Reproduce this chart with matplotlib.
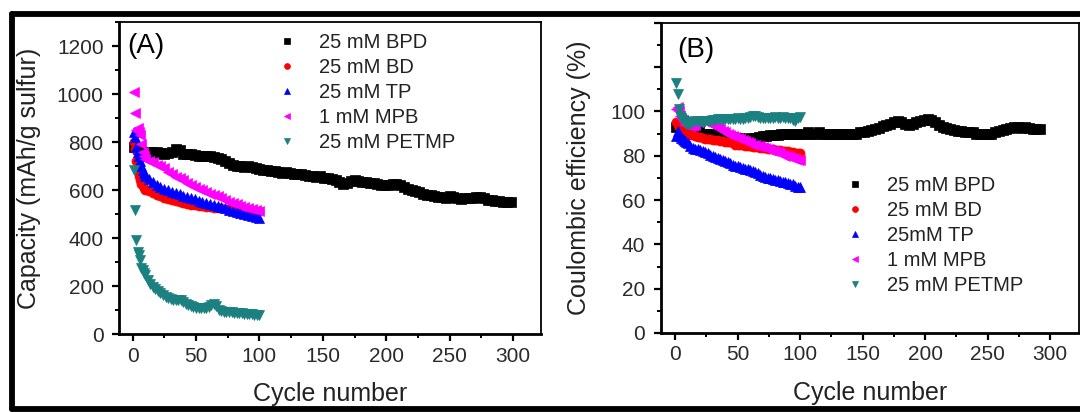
import matplotlib
matplotlib.use("Agg")
import matplotlib.pyplot as plt
from matplotlib.lines import Line2D
from matplotlib.ticker import MultipleLocator, FuncFormatter

plt.rcParams["font.family"] = ["Liberation Sans", "DejaVu Sans"]

labels_a = ["25 mM BPD", "25 mM BD", "25 mM TP", "1 mM MPB", "25 mM PETMP"]
labels_b = ["25 mM BPD", "25 mM BD", "25mM TP", "1 mM MPB", "25 mM PETMP"]
colors = ["black", "#ff0000", "#0000ff", "#ff00ff", "#1b8080"]
markers = ["s", "o", "^", "<", "v"]
sizes = [6.5, 6.5, 7, 7, 7]

# panel A: capacity (mAh/g sulfur)
cyc_bpd_a = list(range(1, 299, 3))
cap_bpd = [780, 770, 762, 760, 758, 757, 760, 755, 752, 755,
           758, 770, 768, 752, 750, 748, 745, 742, 740, 742,
           740, 738, 735, 728, 720, 712, 705, 700, 698, 696,
           700, 695, 690, 688, 685, 682, 680, 678, 675, 672,
           673, 670, 668, 665, 666, 662, 660, 658, 655, 657,
           652, 650, 646, 640, 632, 625, 628, 638, 642, 636,
           634, 632, 630, 628, 625, 622, 620, 620, 624, 626,
           620, 612, 605, 600, 595, 590, 585, 580, 578, 575,
           572, 570, 568, 575, 570, 565, 562, 565, 568, 565,
           572, 570, 565, 560, 558, 555, 553, 552, 550, 548]

cyc_short = list(range(1, 11)) + list(range(13, 101, 3))
cap_bd = [800, 770, 720, 680, 660, 640, 625, 615, 608, 602,
          595, 588, 580, 575, 568, 563, 558, 553, 548, 544,
          540, 538, 536, 534, 532, 530, 528, 527, 525, 524,
          522, 521, 520, 518, 517, 516, 515, 514, 513, 512]
cap_tp = [840, 820, 780, 760, 740, 720, 700, 685, 670, 660,
          645, 632, 622, 614, 606, 599, 593, 588, 582, 577,
          572, 566, 561, 556, 551, 546, 541, 537, 533, 528,
          523, 518, 514, 510, 505, 500, 496, 492, 488, 484]
cap_mpb = [1010, 920, 850, 860, 840, 830, 790, 760, 740, 730,
           720, 715, 705, 700, 690, 675, 665, 655, 648, 642,
           630, 620, 612, 605, 598, 590, 585, 578, 574, 566,
           558, 552, 545, 540, 535, 530, 525, 520, 517, 514]

cyc_petmp = list(range(1, 11)) + list(range(12, 101, 2))
cap_petmp = [685, 515, 390, 340, 330, 310, 275, 265, 255, 245,
             225, 208, 196, 186, 178, 170, 163, 155, 148, 145,
             143, 142, 142, 140, 132, 126, 120, 116, 113, 110,
             108, 107, 107, 109, 113, 120, 124, 118, 102, 96,
             93, 92, 91, 90, 88, 87, 86, 86, 85, 84,
             83, 82, 81, 81, 80]

# panel B: coulombic efficiency (%)
cyc_bpd_b = list(range(1, 293, 3))
ce_bpd = [93, 92, 91, 91, 90.5, 90, 91, 90, 90, 89.5,
          90, 89.5, 89, 89, 89, 88.5, 88, 88, 87.5, 87.5,
          88, 88, 88.5, 89, 89, 89.5, 89.5, 89.5, 90, 90,
          90, 90, 90, 90, 90, 90.5, 90, 90, 90.5, 90,
          90, 90, 90, 90, 90, 90, 90, 90, 90, 90.5,
          90.5, 91, 91.5, 92, 92.5, 93.5, 94, 94.5, 95, 95.5,
          95, 94.5, 94, 94.5, 95, 95.5, 96, 96.5, 96, 95,
          94, 93, 92.5, 92, 91.5, 91, 91, 90.5, 90.5, 90.5,
          90, 90, 90, 90, 90, 90.5, 91, 91.5, 92, 92.5,
          93, 93, 92.5, 93, 92.5, 92, 92, 92]

cyc_ce = list(range(1, 11)) + list(range(12, 101, 2))
ce_bd = [95, 94, 93, 92, 91.5, 91, 91, 90.5, 90, 90,
         89.5, 89.5, 89, 88.5, 88.5, 88, 87.5, 87.5, 87.5, 87,
         87, 87, 86.5, 86.5, 86, 86, 86, 85.5, 85, 85,
         85, 85, 84.5, 84.5, 84.5, 84, 84, 84, 83.5, 83.5,
         83.5, 83, 83, 83, 82.5, 82.5, 82.5, 82, 82, 82,
         81.5, 81.5, 81, 81, 81]
ce_tp = [89, 91, 90, 89, 88, 87.5, 87, 86.5, 86, 85.5,
         84.5, 83.5, 83, 83, 82.5, 82, 81.5, 81, 80.5, 80,
         79.5, 79, 78.5, 78, 77.5, 77, 76.5, 76, 75.5, 75.5,
         75, 74.5, 74, 74, 73.5, 73, 72.5, 72, 71.5, 71,
         70.5, 70, 70, 69.5, 69, 69, 68.5, 68, 68, 67.5,
         67, 67, 66.5, 66, 66]
ce_mpb = [101, 102, 100, 98, 97, 96, 95, 94.5, 94, 94,
          93.5, 93.5, 94, 95, 95.5, 96, 95.5, 95, 94.5, 94,
          93.5, 93, 92, 91, 90.5, 90, 89.5, 89, 88.5, 88,
          87.5, 87, 86.5, 86, 85.5, 85, 85, 84.5, 84.5, 84,
          83.5, 83, 82.5, 82, 82, 81.5, 81, 80.5, 80, 80,
          79.5, 79, 78.5, 78, 78]
ce_petmp = [113, 108, 101, 98, 97, 96, 95.5, 95, 94.5, 94.5,
            94.5, 95, 95.5, 95.5, 95, 95, 95.5, 95.5, 95.5, 96,
            96, 96.5, 96.5, 96, 96.5, 96.5, 96.5, 96.5, 96.5, 97,
            96.5, 96.5, 97, 97, 97.5, 98, 98, 97.5, 97, 97,
            97, 97, 97, 97, 97.5, 97, 97, 97.5, 97, 97,
            97, 96, 95.5, 97, 97.5]

fig = plt.figure(figsize=(10.8, 4.12), dpi=100)

# outer frame of the screenshot
fw, fh = 1080, 412
frame_kw = dict(color="black", lw=4.2, solid_capstyle="round", transform=fig.transFigure)
fig.add_artist(Line2D([12 / fw, 12 / fw], [1 - 14 / fh, 1 - 409 / fh], **frame_kw))
fig.add_artist(Line2D([12 / fw, 1.01], [1 - 14 / fh, 1 - 14 / fh], **frame_kw))
fig.add_artist(Line2D([12 / fw, 1.01], [1 - 409 / fh, 1 - 409 / fh], **frame_kw))

ax1 = fig.add_axes([119 / fw, 78 / fh, 422 / fw, 312 / fh])
ax2 = fig.add_axes([660.5 / fw, 79 / fh, 418.5 / fw, 310.3 / fh])

series_a = [(cyc_bpd_a, cap_bpd), (cyc_short, cap_bd), (cyc_short, cap_tp),
            (cyc_short, cap_mpb), (cyc_petmp, cap_petmp)]
series_b = [(cyc_bpd_b, ce_bpd), (cyc_ce, ce_bd), (cyc_ce, ce_tp),
            (cyc_ce, ce_mpb), (cyc_ce, ce_petmp)]

for (x, y), c, m, s, lab in zip(series_a, colors, markers, sizes, labels_a):
    ax1.plot(x, y, ls="none", marker=m, ms=s, color=c, mec=c, mew=0.5, label=lab)
for (x, y), c, m, s, lab in zip(series_b, colors, markers, sizes, labels_b):
    ax2.plot(x, y, ls="none", marker=m, ms=s, color=c, mec=c, mew=0.5, label=lab)

ax1.set_xlim(-10.7, 322)
ax1.set_ylim(0, 1300)
ax1.yaxis.set_minor_locator(MultipleLocator(100))
ax1.set_yticks([0, 200, 400, 600, 800, 1000, 1200])

ax2.set_xlim(-11.6, 323)
ax2.set_ylim(0, 140)
ax2.yaxis.set_major_locator(MultipleLocator(20))
ax2.yaxis.set_minor_locator(MultipleLocator(10))
ax2.yaxis.set_major_formatter(FuncFormatter(lambda v, p: "" if v > 100 else f"{v:.0f}"))

for ax in (ax1, ax2):
    ax.set_xticks([0, 50, 100, 150, 200, 250, 300])
    ax.xaxis.set_minor_locator(MultipleLocator(25))
    ax.tick_params(which="major", direction="out", length=5, width=1.6,
                   labelsize=15, labelcolor="#2a2a2a", pad=4)
    ax.tick_params(which="minor", direction="out", length=3, width=1.4)
    ax.tick_params(axis="y", which="major", pad=6)
    for side in ("left", "bottom"):
        ax.spines[side].set_linewidth(2)
    for side in ("top", "right"):
        ax.spines[side].set_linewidth(1.3)
    ax.set_xlabel("Cycle number", fontsize=18, color="#222222")

ax1.set_ylabel("Capacity (mAh/g sulfur)", fontsize=18, color="#222222")
ax2.set_ylabel("Coulombic efficiency (%)", fontsize=18, color="#222222")
ax1.yaxis.set_label_coords(-0.185, 0.5)
ax2.yaxis.set_label_coords(-0.165, 0.5)
ax1.xaxis.set_label_coords(0.5, -0.155)
ax2.xaxis.set_label_coords(0.5, -0.155)

ax1.text(0.02, 0.965, "(A)", transform=ax1.transAxes, fontsize=20, va="top", ha="left")
ax2.text(0.04, 0.955, "(B)", transform=ax2.transAxes, fontsize=20, va="top", ha="left")

leg_kw = dict(frameon=False, fontsize=14.5, handlelength=1.0, handletextpad=1.1,
              labelspacing=0.3, borderpad=0, borderaxespad=0, markerscale=0.65,
              labelcolor="#222222")
ax1.legend(loc="upper left", bbox_to_anchor=(0.374, 0.965), **leg_kw)
ax2.legend(loc="upper left", bbox_to_anchor=(0.441, 0.506), **leg_kw)

fig.savefig("out.png", dpi=100)
